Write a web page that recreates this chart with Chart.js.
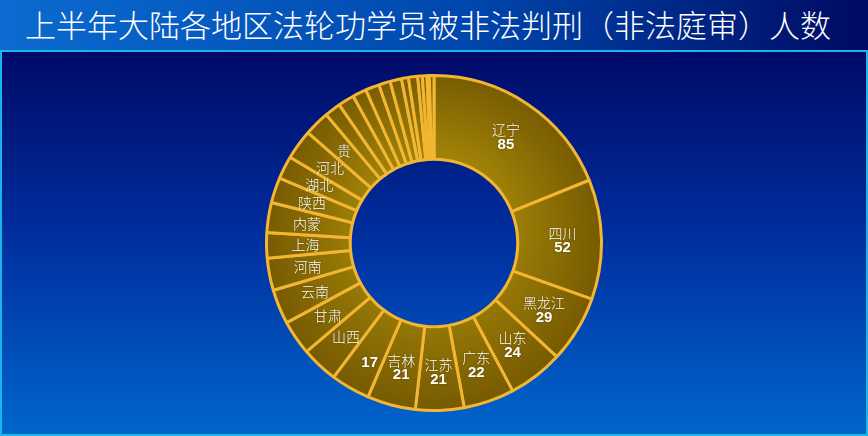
<!DOCTYPE html>
<html>
<head>
<meta charset="utf-8">
<script src="https://cdn.jsdelivr.net/npm/chart.js@4.4.1/dist/chart.umd.min.js"></script>
<style>
  html, body { margin: 0; padding: 0; }
  body { width: 868px; height: 436px; position: relative; overflow: hidden; font-family: 'Noto Sans CJK SC', sans-serif; }
  #title {
    position: absolute; left: 0; top: 0; width: 868px; height: 50px;
    box-sizing: border-box; padding-left: 25px;
    background: linear-gradient(to right, #0b6bd0 0%, #0046ac 55%, #000a62 100%);
    color: #fff; font-size: 31px; font-weight: 300; line-height: 48px; white-space: nowrap;
  }
  #panel {
    position: absolute; left: 0; top: 50px; width: 868px; height: 386px;
    box-sizing: border-box; border: 2px solid #1bb4e8;
    background: linear-gradient(to bottom, #000a68 0%, #0030a0 50%, #0066cc 100%);
  }
  #wrap { position: absolute; left: 265px; top: 74px; width: 338px; height: 338px; }
</style>
</head>
<body>
<div id="title">上半年大陆各地区法轮功学员被非法判刑（非法庭审）人数</div>
<div id="panel"></div>
<div id="wrap"><canvas id="chart"></canvas></div>
<script>
// slices clockwise from 12 o'clock; '' = no name printed on the slice
const names = ['辽宁', '四川', '黑龙江', '山东', '广东', '江苏', '吉林', '',
  '山西', '甘肃', '云南', '河南', '上海', '内蒙', '陕西', '湖北', '河北', '贵',
  '', '', '', '', '', '', '', '', '', '', '', '']
const values = [85, 52, 29, 24, 22, 21, 21, 17,
  16, 15, 15, 14, 11, 13, 11, 10, 13, 11,
  7, 7, 6, 6, 5, 5, 3, 4, 2, 2, 1, 2]
const labelledValues = 8 // only the first slices carry a number

function sliceFill(context) {
  const chart = context.chart
  const area = chart.chartArea
  if (!area) return '#866804'
  const cx = (area.left + area.right) / 2
  const cy = (area.top + area.bottom) / 2
  const g = chart.ctx.createRadialGradient(cx, cy - 20, 70, cx, cy, 180)
  g.addColorStop(0, '#a08208')
  g.addColorStop(1, '#725600')
  return g
}

const sliceLabels = {
  id: 'sliceLabels',
  afterDatasetsDraw(chart) {
    const ctx = chart.ctx
    const arcs = chart.getDatasetMeta(0).data
    ctx.save()
    ctx.textAlign = 'center'
    ctx.textBaseline = 'middle'
    ctx.fillStyle = '#ffffff'
    ctx.shadowColor = 'rgba(0,0,0,0.35)'
    ctx.shadowBlur = 2
    arcs.forEach((arc, i) => {
      const p = arc.getProps(['x', 'y', 'startAngle', 'endAngle', 'innerRadius', 'outerRadius'], true)
      const mid = (p.startAngle + p.endAngle) / 2
      const r = (p.innerRadius + p.outerRadius) / 2 + 3
      const px = p.x + Math.cos(mid) * r
      const py = p.y + Math.sin(mid) * r
      const hasValue = i < labelledValues
      if (names[i]) {
        ctx.font = '300 14px "Noto Sans CJK SC"'
        ctx.fillText(names[i], px, hasValue ? py - 7 : py)
      }
      if (hasValue) {
        ctx.font = 'bold 15px "Liberation Sans"'
        ctx.fillText(values[i], px, py + 8)
      }
    })
    ctx.restore()
  }
}

new Chart(document.getElementById('chart'), {
  type: 'doughnut',
  data: {
    labels: names,
    datasets: [{
      data: values,
      backgroundColor: sliceFill,
      borderColor: '#f2b632',
      borderWidth: 3
    }]
  },
  options: {
    responsive: true,
    maintainAspectRatio: false,
    animation: false,
    cutout: '50%',
    layout: { padding: 0 },
    plugins: {
      legend: { display: false },
      tooltip: { enabled: false }
    }
  },
  plugins: [sliceLabels]
})
</script>
</body>
</html>
